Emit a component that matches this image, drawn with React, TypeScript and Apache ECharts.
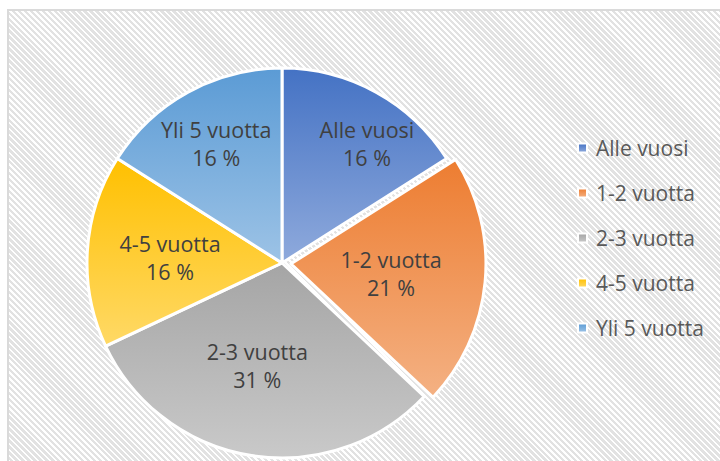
import React, { useEffect, useRef } from "react";
import * as echarts from "echarts";

const categories = ["Alle vuosi", "1-2 vuotta", "2-3 vuotta", "4-5 vuotta", "Yli 5 vuotta"];
const values = [16, 21, 31, 16, 16];
const topColors = ["#4472C4", "#ED7D31", "#A5A5A5", "#FFC000", "#5B9BD5"];
const bottomColors = ["#8FAADC", "#F4B183", "#C9C9C9", "#FFD966", "#9DC3E6"];
const explodedIndex = 1;

// label placement (Excel "best fit" style), relative to slice mid angle
const labelRadiusFrac = [0.75, 0.5, 0.54, 0.575, 0.7];
const labelAngleShift = [6.7, 1.6, 4.6, -0.6, 0];

const CX = 282;
const CY = 263;
const R = 195;
const EXPLODE = 9;

export default function App() {
  const ref = useRef<HTMLDivElement>(null);

  useEffect(() => {
    if (!ref.current) return;
    const chart = echarts.init(ref.current, undefined, { renderer: "svg" });
    const total = values.reduce((a, b) => a + b, 0);

    const data = categories.map((name, i) => ({
      name,
      value: values[i],
      selected: i === explodedIndex,
      itemStyle: {
        color: new echarts.graphic.LinearGradient(0, 0, 0, 1, [
          { offset: 0, color: topColors[i] },
          { offset: 1, color: bottomColors[i] },
        ]),
      },
    }));

    chart.setOption({
      animation: false,
      legend: {
        orient: "vertical",
        left: 577,
        top: 136,
        padding: 0,
        itemWidth: 9,
        itemHeight: 9,
        itemGap: 21,
        icon: "rect",
        data: categories,
        textStyle: {
          fontFamily: "Open Sans",
          fontSize: 21,
          color: "#595959",
          lineHeight: 24,
          padding: [0, 0, 0, 4],
        },
        selectedMode: false,
      },
      series: [
        {
          type: "pie",
          center: [CX, CY],
          radius: [0, R],
          startAngle: 90,
          clockwise: true,
          selectedMode: "single",
          selectedOffset: EXPLODE,
          avoidLabelOverlap: false,
          itemStyle: { borderColor: "#ffffff", borderWidth: 3 },
          emphasis: { disabled: true },
          select: { itemStyle: { borderColor: "#ffffff", borderWidth: 3 } },
          label: {
            show: true,
            position: "inside",
            fontFamily: "Open Sans",
            fontSize: 21.5,
            lineHeight: 28,
            color: "#404040",
            formatter: (p: any) => `${p.name}\n${Math.round(p.percent)} %`,
          },
          labelLine: { show: false },
          labelLayout: (p: any) => {
            const i = p.dataIndex;
            let before = 0;
            for (let k = 0; k < i; k++) before += values[k];
            const mid = ((before + values[i] / 2) / total) * 360 + labelAngleShift[i];
            const rad = (mid * Math.PI) / 180;
            const r = R * labelRadiusFrac[i] + (i === explodedIndex ? EXPLODE : 0);
            return {
              x: CX + r * Math.sin(rad),
              y: CY - r * Math.cos(rad),
              align: "center",
              verticalAlign: "middle",
            };
          },
          data,
        },
      ],
    });

    return () => chart.dispose();
  }, []);

  return (
    <div
      style={{
        position: "fixed",
        left: 0,
        top: 0,
        width: 720,
        height: 461,
        overflow: "hidden",
        background: "#ffffff",
      }}
    >
      <div
        style={{
          position: "absolute",
          left: 7,
          top: 9,
          width: 800,
          height: 600,
          border: "2px solid #dadada",
          background:
            "repeating-linear-gradient(45deg, #ffffff 0px, #ffffff 1.8px, #e2e2e2 1.8px, #e2e2e2 4.2px)",
        }}
      />
      <div ref={ref} style={{ position: "absolute", left: 0, top: 0, width: 720, height: 461 }} />
    </div>
  );
}
